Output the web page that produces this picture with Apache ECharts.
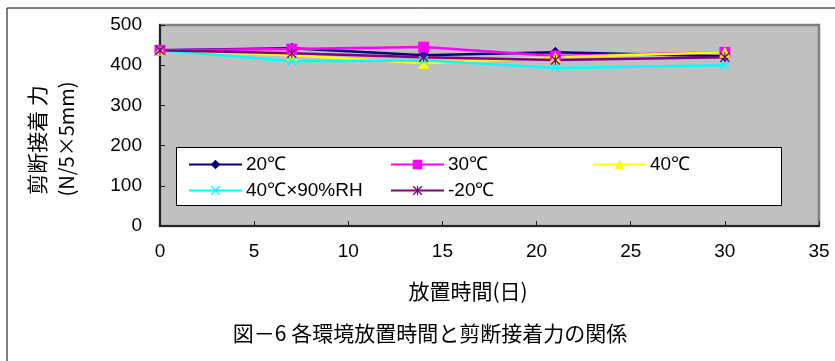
<!DOCTYPE html>
<html><head><meta charset="utf-8">
<script src="https://cdn.jsdelivr.net/npm/echarts@6/dist/echarts.min.js"></script>
<style>html,body{margin:0;padding:0;background:#fff}#c{width:835px;height:361px}</style>
</head><body><div id="c"></div>
<script>
var days = [0, 7, 14, 21, 30];
var s20 = [437, 442, 425, 432, 422];
var s30 = [437, 440, 445, 423, 432];
var s40 = [437, 425, 405, 420, 432];
var s40rh = [437, 410, 412, 393, 400];
var sm20 = [437, 430, 420, 413, 420];
var seriesNames = ['20℃', '30℃', '40℃', '40℃×90%RH', '-20℃'];
var xTitle = '放置時間(日)';
var yTitle1 = '剪断接着 力';
var yTitle2 = '(N/5×5mm)';
var caption = '図－6 各環境放置時間と剪断接着力の関係';

function pairs(vals){ return days.map(function(d,i){ return [d, vals[i]]; }); }
var X_PATH = 'path://M0,1 L1,0 L5,4 L9,0 L10,1 L6,5 L10,9 L9,10 L5,6 L1,10 L0,9 L4,5 Z';
var STAR_PATH = 'path://M0,1 L1,0 L5,4 L9,0 L10,1 L6,5 L10,9 L9,10 L5,6 L1,10 L0,9 L4,5 Z M4.4,0 L5.6,0 L5.6,10 L4.4,10 Z';

var defs = [
  {name: seriesNames[0], data: s20, color: '#000080', symbol: 'diamond', size: 11},
  {name: seriesNames[1], data: s30, color: '#FF00FF', symbol: 'rect', size: 11},
  {name: seriesNames[2], data: s40, color: '#FFFF00', symbol: 'triangle', size: 11},
  {name: seriesNames[3], data: s40rh, color: '#00FFFF', symbol: X_PATH, size: 10},
  {name: seriesNames[4], data: sm20, color: '#800080', symbol: STAR_PATH, size: 10}
];
var series = defs.map(function(d){
  return {
    name: d.name, type: 'line', data: pairs(d.data), symbol: d.symbol, symbolSize: d.size,
    showAllSymbol: true, animation: false,
    lineStyle: {color: d.color, width: 2.5},
    itemStyle: {color: d.color, borderWidth: 0},
    emphasis: {disabled: true}
  };
});

var font = 'Liberation Sans, Arial, sans-serif';
var cjk = '"Noto Sans CJK JP", sans-serif';
var legendCommon = {
  orient: 'vertical', itemWidth: 53, itemHeight: 12, itemGap: 7, padding: 0,
  textStyle: {fontFamily: font, fontSize: 19, color: '#000', padding: [0,0,0,-1]},
  selectedMode: false, z: 5
};
function leg(names, left){
  var o = JSON.parse(JSON.stringify(legendCommon));
  o.data = names; o.left = left; o.top = 155;
  return o;
}

var chart = echarts.init(document.getElementById('c'), null, {renderer: 'canvas'});
chart.setOption({
  animation: false,
  backgroundColor: '#fff',
  grid: {left: 160, top: 25, right: 16, bottom: 135, show: true, backgroundColor: '#C0C0C0', borderColor: '#808080', borderWidth: 2.5},
  xAxis: {
    type: 'value', min: 0, max: 35, interval: 5,
    axisLine: {show: true, lineStyle: {color: '#222', width: 2}},
    axisTick: {show: true, inside: true, length: 5, lineStyle: {color: '#222', width: 1}},
    splitLine: {show: false},
    axisLabel: {fontFamily: font, fontSize: 19, color: '#000', margin: 16}
  },
  yAxis: {
    type: 'value', min: 0, max: 500, interval: 100,
    axisLine: {show: true, lineStyle: {color: '#222', width: 2}},
    axisTick: {show: true, inside: true, length: 5, lineStyle: {color: '#222', width: 1}},
    splitLine: {show: false},
    axisLabel: {fontFamily: font, fontSize: 19, color: '#000', margin: 18}
  },
  legend: [
    leg([seriesNames[0], seriesNames[3]], 188),
    leg([seriesNames[1], seriesNames[4]], 390),
    leg([seriesNames[2]], 592)
  ],
  graphic: [
    {type: 'rect', shape: {x: 7, y: 8, width: 900, height: 500}, style: {fill: 'none', stroke: '#000', lineWidth: 1}, z: 0, silent: true},
    {type: 'rect', shape: {x: 176.5, y: 147.5, width: 605, height: 58}, style: {fill: '#fff', stroke: '#000', lineWidth: 1}, z: 3, silent: true},
    {type: 'text', x: 468, y: 291, style: {text: xTitle, font: '21px ' + cjk, fill: '#000', textAlign: 'center', textVerticalAlign: 'middle'}, z: 5},
    {type: 'text', x: 430, y: 333, style: {text: caption, font: '21px ' + cjk, fill: '#000', textAlign: 'center', textVerticalAlign: 'middle'}, z: 5},
    {type: 'text', rotation: Math.PI/2, x: 37, y: 140, style: {text: yTitle1, font: '21px ' + cjk, fill: '#000', textAlign: 'center', textVerticalAlign: 'middle'}, z: 5},
    {type: 'text', rotation: Math.PI/2, x: 66, y: 139, style: {text: yTitle2, font: '20px ' + cjk, fill: '#000', textAlign: 'center', textVerticalAlign: 'middle'}, z: 5}
  ],
  series: series
});
</script></body></html>
